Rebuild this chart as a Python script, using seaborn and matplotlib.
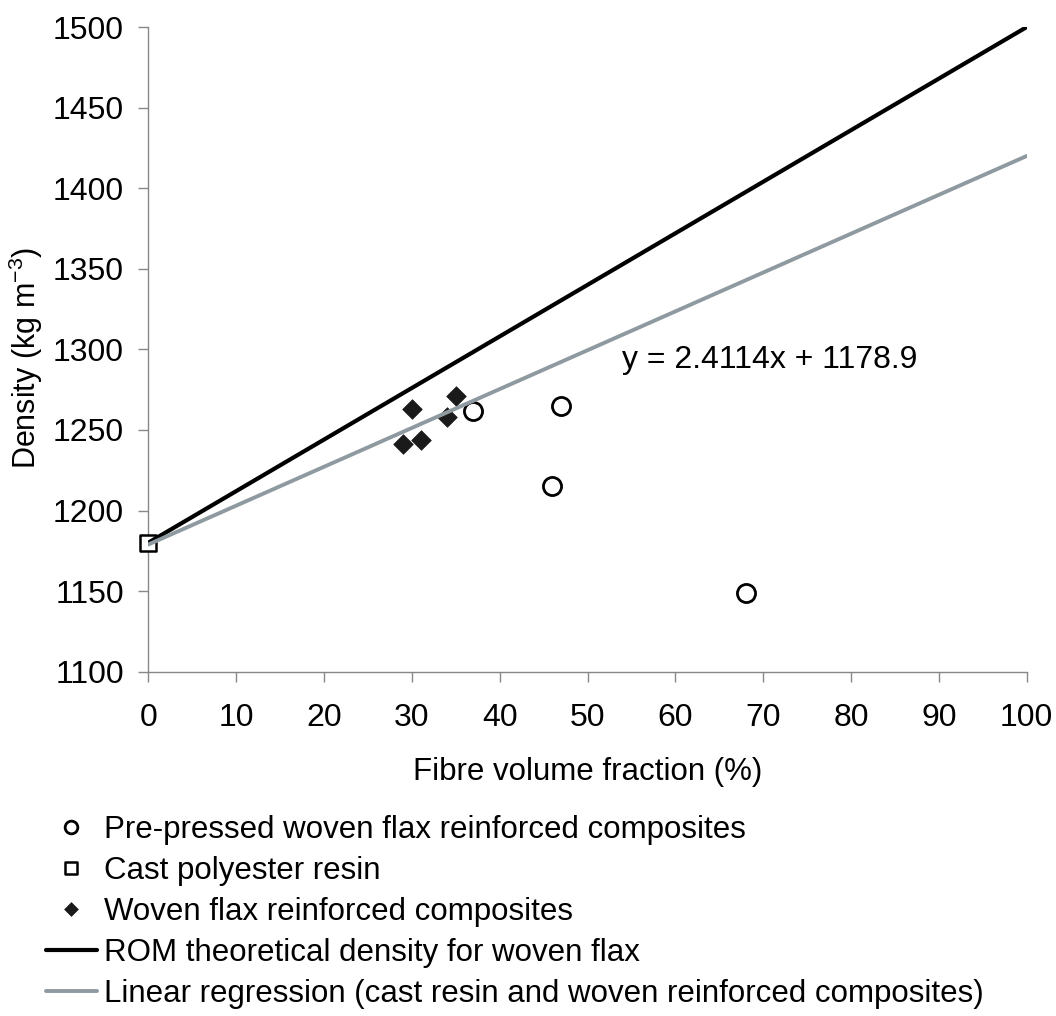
import matplotlib
matplotlib.use("Agg")
import matplotlib.pyplot as plt
import seaborn as sns

# ---- data ----
prepressed_vf = [37, 47, 46, 68]
prepressed_density = [1262, 1265, 1215, 1149]

resin_vf = [0]
resin_density = [1180]

woven_vf = [29, 30, 31, 34, 35]
woven_density = [1241, 1263, 1244, 1258, 1271]

rom_vf = [0, 100]
rom_density = [1180, 1500]

reg_vf = [0, 100]
reg_density = [1178.9, 1420.0]

x_ticks = [0, 10, 20, 30, 40, 50, 60, 70, 80, 90, 100]
y_ticks = [1100, 1150, 1200, 1250, 1300, 1350, 1400, 1450, 1500]

labels = [
    "Pre-pressed woven flax reinforced composites",
    "Cast polyester resin",
    "Woven flax reinforced composites",
    "ROM theoretical density for woven flax",
    "Linear regression (cast resin and woven reinforced composites)",
]
equation = "y = 2.4114x + 1178.9"

# ---- style ----
sns.set_style("ticks")
plt.rcParams["font.family"] = ["Liberation Sans", "DejaVu Sans"]
plt.rcParams["mathtext.fontset"] = "custom"
plt.rcParams["mathtext.rm"] = "Liberation Sans"
plt.rcParams["mathtext.it"] = "Liberation Sans"
plt.rcParams["text.color"] = "black"
plt.rcParams["axes.labelcolor"] = "black"

fig = plt.figure(figsize=(10.56, 10.16), dpi=100)
ax = fig.add_axes([0.1404, 0.3389, 0.9723 - 0.1404, 0.9734 - 0.3389])

sns.scatterplot(x=prepressed_vf, y=prepressed_density, marker="o", s=170,
                facecolor="white", edgecolor="black", linewidth=2.0,
                ax=ax, label=labels[0], zorder=3, clip_on=False)
sns.scatterplot(x=resin_vf, y=resin_density, marker="s", s=140,
                facecolor="white", edgecolor="black", linewidth=1.8,
                ax=ax, label=labels[1], zorder=3, clip_on=False)
sns.scatterplot(x=woven_vf, y=woven_density, marker="D", s=100,
                color="#1a1a1a", edgecolor="#1a1a1a", linewidth=0.5,
                ax=ax, label=labels[2], zorder=3, clip_on=False)
sns.lineplot(x=rom_vf, y=rom_density, color="black", linewidth=3.0,
             ax=ax, label=labels[3], zorder=4)
sns.lineplot(x=reg_vf, y=reg_density, color="#8E9AA0", linewidth=2.8,
             ax=ax, label=labels[4], zorder=5)

ax.set_xlim(0, 100)
ax.set_ylim(1100, 1500)
ax.set_xticks(x_ticks)
ax.set_yticks(y_ticks)
ax.tick_params(axis="both", direction="out", length=7.5, width=1,
               color="#888888", labelsize=23, labelcolor="black")
ax.tick_params(axis="y", pad=10)
ax.tick_params(axis="x", pad=15)

for side in ["top", "right"]:
    ax.spines[side].set_visible(False)
for side in ["left", "bottom"]:
    ax.spines[side].set_color("#888888")
    ax.spines[side].set_linewidth(1)

ax.set_xlabel("Fibre volume fraction (%)", fontsize=22.5, labelpad=17)
ax.set_ylabel("Density (kg m$^{-3}$)", fontsize=22)
ax.yaxis.set_label_coords(-0.118, 0.487)

ax.text(53.9, 1288.5, equation, fontsize=23, ha="left", va="baseline", zorder=6)

handles, labs = ax.get_legend_handles_labels()
ax.get_legend().remove()
fig.legend(handles, labs, loc="upper left",
           bbox_to_anchor=(46 / 1056, 1 - 815 / 1016),
           bbox_transform=fig.transFigure, frameon=False, fontsize=22.5,
           borderaxespad=0, borderpad=0, handlelength=1.63, handletextpad=0.22,
           labelspacing=0.35, markerscale=0.7, scatterpoints=1,
           scatteryoffsets=[0.5])

fig.savefig("out.png", dpi=100)
